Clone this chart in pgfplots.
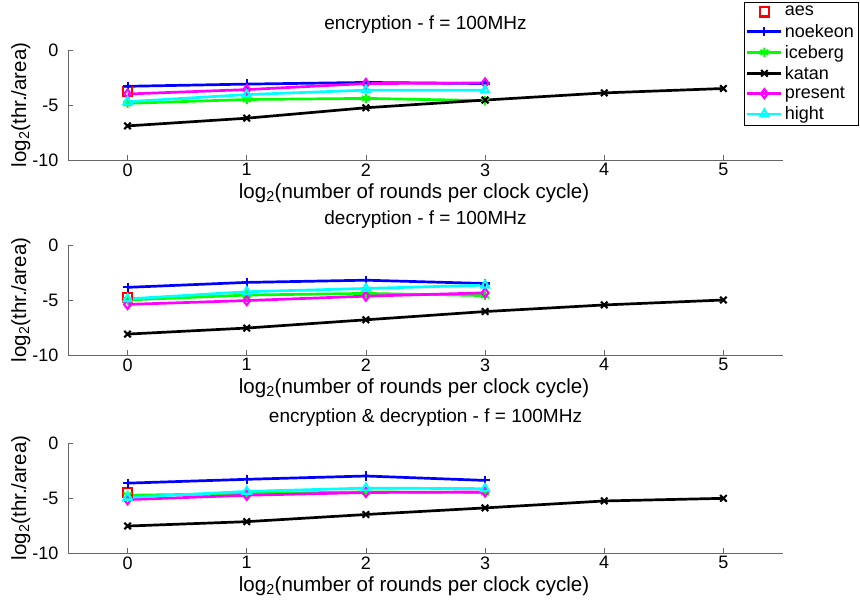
\documentclass[border=0pt]{standalone}
\usepackage{fontspec}
\setmainfont{Liberation Sans}
\usepackage{pgfplots}
\pgfplotsset{compat=1.18}

\definecolor{axgray}{rgb}{0.4,0.4,0.4}
\definecolor{cRed}{rgb}{1,0,0}
\definecolor{cBlue}{rgb}{0,0,1}
\definecolor{cGreen}{rgb}{0,1,0}
\definecolor{cMagenta}{rgb}{1,0,1}
\definecolor{cCyan}{rgb}{0,1,1}

\pgfplotsset{
  panel/.style={
    width=715pt, height=110pt, scale only axis,
    xmin=-0.5, xmax=5.5, ymin=-10, ymax=0,
    xtick={0,...,5}, ytick={-10,-5,0},
    axis x line=bottom, axis y line=left,
    axis line style={-, draw=axgray, line width=0.6pt},
    every tick/.style={draw=axgray, line width=0.6pt},
    tick align=inside, major tick length=5pt,
    tick label style={font=\fontsize{18}{20}\selectfont},
    yticklabel style={xshift=-6pt},
    /pgf/number format/assume math mode=true,
    label style={font=\fontsize{20.5}{23}\selectfont},
    title style={font=\fontsize{19}{22}\selectfont, at={(axis description cs:0.5,1.18)}, anchor=center},
    xlabel={log\textsubscript{2}(number of rounds per clock cycle)},
    ylabel={log\textsubscript{2}(thr./area)},
    xlabel style={at={(axis description cs:0.484,-0.30)}, anchor=center},
    ylabel style={at={(axis description cs:-0.066,0.5)}, anchor=center},
    clip=false,
    legend image code/.code={\draw[mark repeat=2,mark phase=2,##1] plot coordinates {(0pt,0pt)(17pt,0pt)(34pt,0pt)};},
  },
  ser/.style={draw=#1, fill=none, line width=2.7pt, mark size=4.6pt,
    mark options={solid, draw=#1, fill=none, line width=2.1pt}},
  aes/.style={ser=cRed, mark=square, only marks},
  noekeon/.style={ser=cBlue, mark=+},
  iceberg/.style={ser=cGreen, mark=asterisk},
  katan/.style={ser=black, mark=x},
  present/.style={ser=cMagenta, mark=diamond},
  hight/.style={ser=cCyan, mark=triangle},
}

\begin{document}
\begin{tikzpicture}
\useasboundingbox (-68pt,160pt) rectangle (792pt,-445pt);

% encryption
\begin{axis}[panel, title={encryption - f = 100MHz},
  legend style={at={(axis description cs:1.105,1.436)}, anchor=north east,
    draw=black, line width=0.5pt, fill=white, font=\fontsize{18}{20}\selectfont,
    cells={anchor=west}, inner sep=2pt, row sep=2.5pt}]
\addplot[aes] coordinates {(0,-3.8)};
\addplot[noekeon] coordinates {(0,-3.3)(1,-3.1)(2,-2.95)(3,-3.05)};
\addplot[iceberg] coordinates {(0,-4.85)(1,-4.5)(2,-4.4)(3,-4.6)};
\addplot[katan] coordinates {(0,-6.9)(1,-6.2)(2,-5.25)(3,-4.55)(4,-3.9)(5,-3.5)};
\addplot[present] coordinates {(0,-4.0)(1,-3.6)(2,-3.05)(3,-3.0)};
\addplot[hight] coordinates {(0,-4.7)(1,-4.05)(2,-3.65)(3,-3.65)};
\legend{aes,noekeon,iceberg,katan,present,hight}
\end{axis}

% decryption
\begin{axis}[panel, at={(0pt,-195pt)}, title={decryption - f = 100MHz}]
\addplot[aes] coordinates {(0,-4.8)};
\addplot[noekeon] coordinates {(0,-3.85)(1,-3.4)(2,-3.2)(3,-3.5)};
\addplot[iceberg] coordinates {(0,-5.0)(1,-4.55)(2,-4.4)(3,-4.6)};
\addplot[katan] coordinates {(0,-8.1)(1,-7.55)(2,-6.8)(3,-6.05)(4,-5.45)(5,-5.0)};
\addplot[present] coordinates {(0,-5.4)(1,-5.05)(2,-4.65)(3,-4.35)};
\addplot[hight] coordinates {(0,-4.9)(1,-4.25)(2,-3.95)(3,-3.65)};
\end{axis}

% encryption & decryption
\begin{axis}[panel, at={(0pt,-393pt)}, title={encryption \& decryption - f = 100MHz}]
\addplot[aes] coordinates {(0,-4.5)};
\addplot[noekeon] coordinates {(0,-3.65)(1,-3.3)(2,-3.0)(3,-3.4)};
\addplot[iceberg] coordinates {(0,-4.75)(1,-4.6)(2,-4.45)(3,-4.5)};
\addplot[katan] coordinates {(0,-7.55)(1,-7.15)(2,-6.5)(3,-5.9)(4,-5.27)(5,-5.03)};
\addplot[present] coordinates {(0,-5.15)(1,-4.75)(2,-4.5)(3,-4.45)};
\addplot[hight] coordinates {(0,-4.95)(1,-4.4)(2,-4.1)(3,-4.15)};
\end{axis}
\end{tikzpicture}
\end{document}
